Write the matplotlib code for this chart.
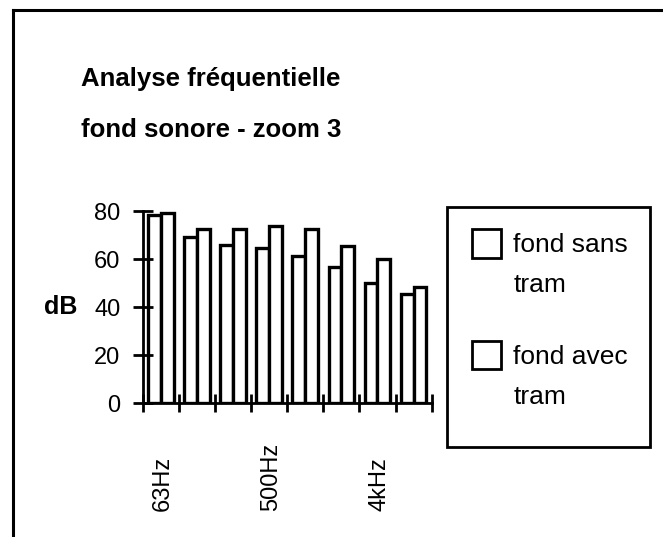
import numpy as np
import matplotlib
matplotlib.use('Agg')
from matplotlib import pyplot as plt
from matplotlib.lines import Line2D
from matplotlib.patches import Rectangle
from matplotlib.container import BarContainer
from matplotlib.legend_handler import HandlerPatch, update_from_first_child

plt.rcParams['font.family'] = ['Liberation Sans', 'DejaVu Sans']

##################
# Octave bands (dB)
bands = ['63Hz', '125Hz', '250Hz', '500Hz', '1kHz', '2kHz', '4kHz', '8kHz']
shown_labels = ['63Hz', '500Hz', '4kHz']
fond_sans = [78.3, 69.3, 65.9, 64.7, 61.2, 56.8, 49.9, 45.4]
fond_avec = [79.3, 72.4, 72.4, 73.7, 72.4, 65.4, 59.9, 48.5]
yticks = [0, 20, 40, 60, 80]

x = np.arange(len(bands))
w = 0.355

fig = plt.figure(figsize=(6.63, 5.37), dpi=100)
ax = fig.add_axes([0.2152, 0.2495, 0.4359, 0.3575])

b1 = ax.bar(x - w/2, fond_sans, w, facecolor='white', edgecolor='black', linewidth=2.4)
b2 = ax.bar(x + w/2, fond_avec, w, facecolor='white', edgecolor='black', linewidth=2.4)

ax.set_xlim(-0.5, len(bands) - 0.5)
ax.set_ylim(0, 80)
for s in ['top', 'right']:
    ax.spines[s].set_visible(False)
for s in ['left', 'bottom']:
    ax.spines[s].set_linewidth(2)

ax.set_yticks(yticks)
ax.tick_params(axis='y', direction='inout', length=14, width=2, pad=9, labelsize=17)

# major ticks between groups, labels on some group centres
ax.set_xticks(np.arange(len(bands) + 1) - 0.5)
ax.set_xticklabels([])
ax.tick_params(axis='x', which='major', direction='inout', length=13, width=2)
ax.set_xticks([bands.index(b) + 0.05 for b in shown_labels], shown_labels, minor=True)
ax.tick_params(axis='x', which='minor', length=0, pad=78, labelsize=17, labelrotation=90)
plt.setp(ax.get_xticklabels(minor=True), va='bottom')

ax.set_ylabel('dB', rotation=0, fontsize=18, fontweight='bold', va='center', ha='center')
ax.yaxis.set_label_coords(-0.283, 0.5)

fig.text(211/663, 1 - 67/537, 'Analyse fréquentielle\nfond sonore - zoom 3',
         ha='center', va='top', fontsize=18.5, fontweight='bold', linespacing=2.4)

# legend: square drawn next to the first line of each label
def square(legend, orig_handle, xdescent, ydescent, width, height, fontsize):
    return Rectangle((-xdescent, -ydescent + (height - width) / 2 + 16), width, width)

leg = fig.legend([b1, b2], ['fond sans\ntram', 'fond avec\ntram'],
                 loc='upper left', bbox_to_anchor=(472/663, 1 - 233/537),
                 frameon=False, fontsize=19, borderpad=0, borderaxespad=0,
                 handlelength=1.08, handleheight=1.08, handletextpad=0.48,
                 labelspacing=1.8,
                 handler_map={BarContainer: HandlerPatch(patch_func=square,
                                                         update_func=update_from_first_child)})
for t in leg.get_texts():
    t.set_linespacing(1.85)
for h in leg.legend_handles:
    h.set_linewidth(2)

# legend frame
fig.add_artist(Rectangle((447/663, 1 - 447/537), 203/663, 240/537,
                         transform=fig.transFigure, fill=False, edgecolor='black', linewidth=2))

# outer frame of the sheet
fig.add_artist(Line2D([13/663, 1], [1 - 10/537, 1 - 10/537], transform=fig.transFigure,
                      color='black', linewidth=2.2))
fig.add_artist(Line2D([13/663, 13/663], [0, 1 - 10/537], transform=fig.transFigure,
                      color='black', linewidth=2.2))

fig.savefig('out.png', dpi=100)
